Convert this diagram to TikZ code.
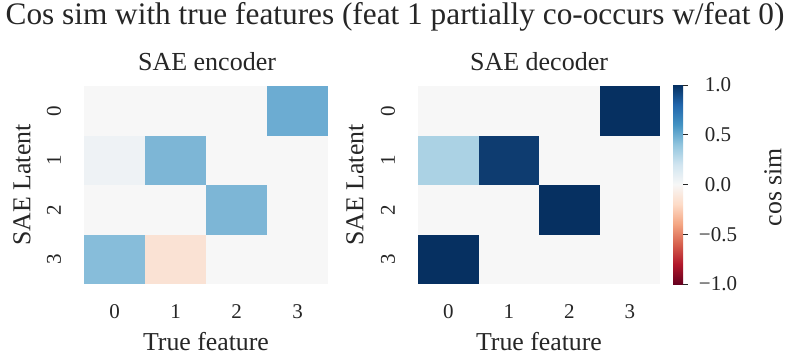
\documentclass[tikz,border=0pt]{standalone}
\usepackage{fontspec}
\setmainfont{Liberation Serif}
\usetikzlibrary{positioning}
\definecolor{inkgray}{RGB}{38,38,38}
\definecolor{neutral}{RGB}{247,247,247}
% encoder cells
\definecolor{encA}{RGB}{108,172,210}
\definecolor{encB}{RGB}{125,182,214}
\definecolor{encC}{RGB}{135,189,218}
\definecolor{encD}{RGB}{250,226,212}
\definecolor{encE}{RGB}{238,242,245}
% decoder cells
\definecolor{decA}{RGB}{6,48,97}
\definecolor{decB}{RGB}{14,60,112}
\definecolor{decC}{RGB}{171,210,228}
% RdBu_r stops
\definecolor{rb0}{RGB}{103,0,31}
\definecolor{rb1}{RGB}{178,24,43}
\definecolor{rb2}{RGB}{214,96,77}
\definecolor{rb3}{RGB}{244,165,130}
\definecolor{rb4}{RGB}{253,219,199}
\definecolor{rb5}{RGB}{247,247,247}
\definecolor{rb6}{RGB}{209,229,240}
\definecolor{rb7}{RGB}{146,197,222}
\definecolor{rb8}{RGB}{67,147,195}
\definecolor{rb9}{RGB}{33,102,172}
\definecolor{rb10}{RGB}{5,48,97}
\pgfdeclareverticalshading{rdbu}{100bp}{color(0bp)=(rb0); color(25bp)=(rb0); color(30bp)=(rb1); color(35bp)=(rb2); color(40bp)=(rb3); color(45bp)=(rb4); color(50bp)=(rb5); color(55bp)=(rb6); color(60bp)=(rb7); color(65bp)=(rb8); color(70bp)=(rb9); color(75bp)=(rb10); color(100bp)=(rb10)}
\tikzset{
    figtitle/.style={font=\fontsize{31.3}{31.3}\selectfont, text=inkgray, inner sep=0pt},
    paneltitle/.style={font=\fontsize{26}{26}\selectfont, text=inkgray, inner sep=0pt},
    axislabel/.style={font=\fontsize{25.8}{25.8}\selectfont, text=inkgray, inner sep=0pt},
    ticklabel/.style={font=\fontsize{21}{21}\selectfont, text=inkgray, inner sep=0pt},
    tickmark/.style={inkgray, line width=0.8pt}
}

\begin{document}
\begin{tikzpicture}[x=1pt, y=-1pt]
    \useasboundingbox[fill=white] (0,0) rectangle (790,356);
    \node[figtitle] (title) at (395,17) {Cos sim with true features (feat 1 partially co-occurs w/feat 0)};
    % encoder heatmap
    \fill[neutral] (84,86) rectangle (328,284);
    \foreach \r/\c/\col in {0/3/encA, 1/0/encE, 1/1/encB, 2/2/encB, 3/0/encC, 3/1/encD}
        \fill[\col] (84+\c*61, 86+\r*49.5) rectangle ++(61,49.5);
    \node[paneltitle] (enctitle) at (207,62) {SAE encoder};
    \foreach \i in {0,...,3} {
        \node[ticklabel] (encx\i) at (114.5+\i*61,312) {\i};
        \node[ticklabel, rotate=90] (ency\i) at (54,110.75+\i*49.5) {\i};
    }
    \node[axislabel] (encxlab) at (206,342) {True feature};
    \node[axislabel, rotate=90] (encylab) at (22,185) {SAE Latent};
    % decoder heatmap
    \fill[neutral] (418,86) rectangle (660,284);
    \foreach \r/\c/\col in {0/3/decA, 1/0/decC, 1/1/decB, 2/2/decA, 3/0/decA}
        \fill[\col] (418+\c*60.5, 86+\r*49.5) rectangle ++(60.5,49.5);
    \node[paneltitle] (dectitle) at (539,62) {SAE decoder};
    \foreach \i in {0,...,3} {
        \node[ticklabel] (decx\i) at (448.25+\i*60.5,312) {\i};
        \node[ticklabel, rotate=90] (decy\i) at (388,110.75+\i*49.5) {\i};
    }
    \node[axislabel] (decxlab) at (539,342) {True feature};
    \node[axislabel, rotate=90] (decylab) at (355,185) {SAE Latent};
    % colorbar
    \shade[shading=rdbu] (673,85) rectangle (683,284);
    \foreach \v/\lab [count=\k from 0] in {1/1.0, 0.5/0.5, 0/0.0, -0.5/−0.5, -1/−1.0} {
        \draw[tickmark] (683,184.5-\v*99.5) -- ++(5,0);
        \node[ticklabel] (cb\k) at (718,184.5-\v*99.5) {\lab};
    }
    \node[axislabel, rotate=90] (cblab) at (773,187) {cos sim};
\end{tikzpicture}
\end{document}
